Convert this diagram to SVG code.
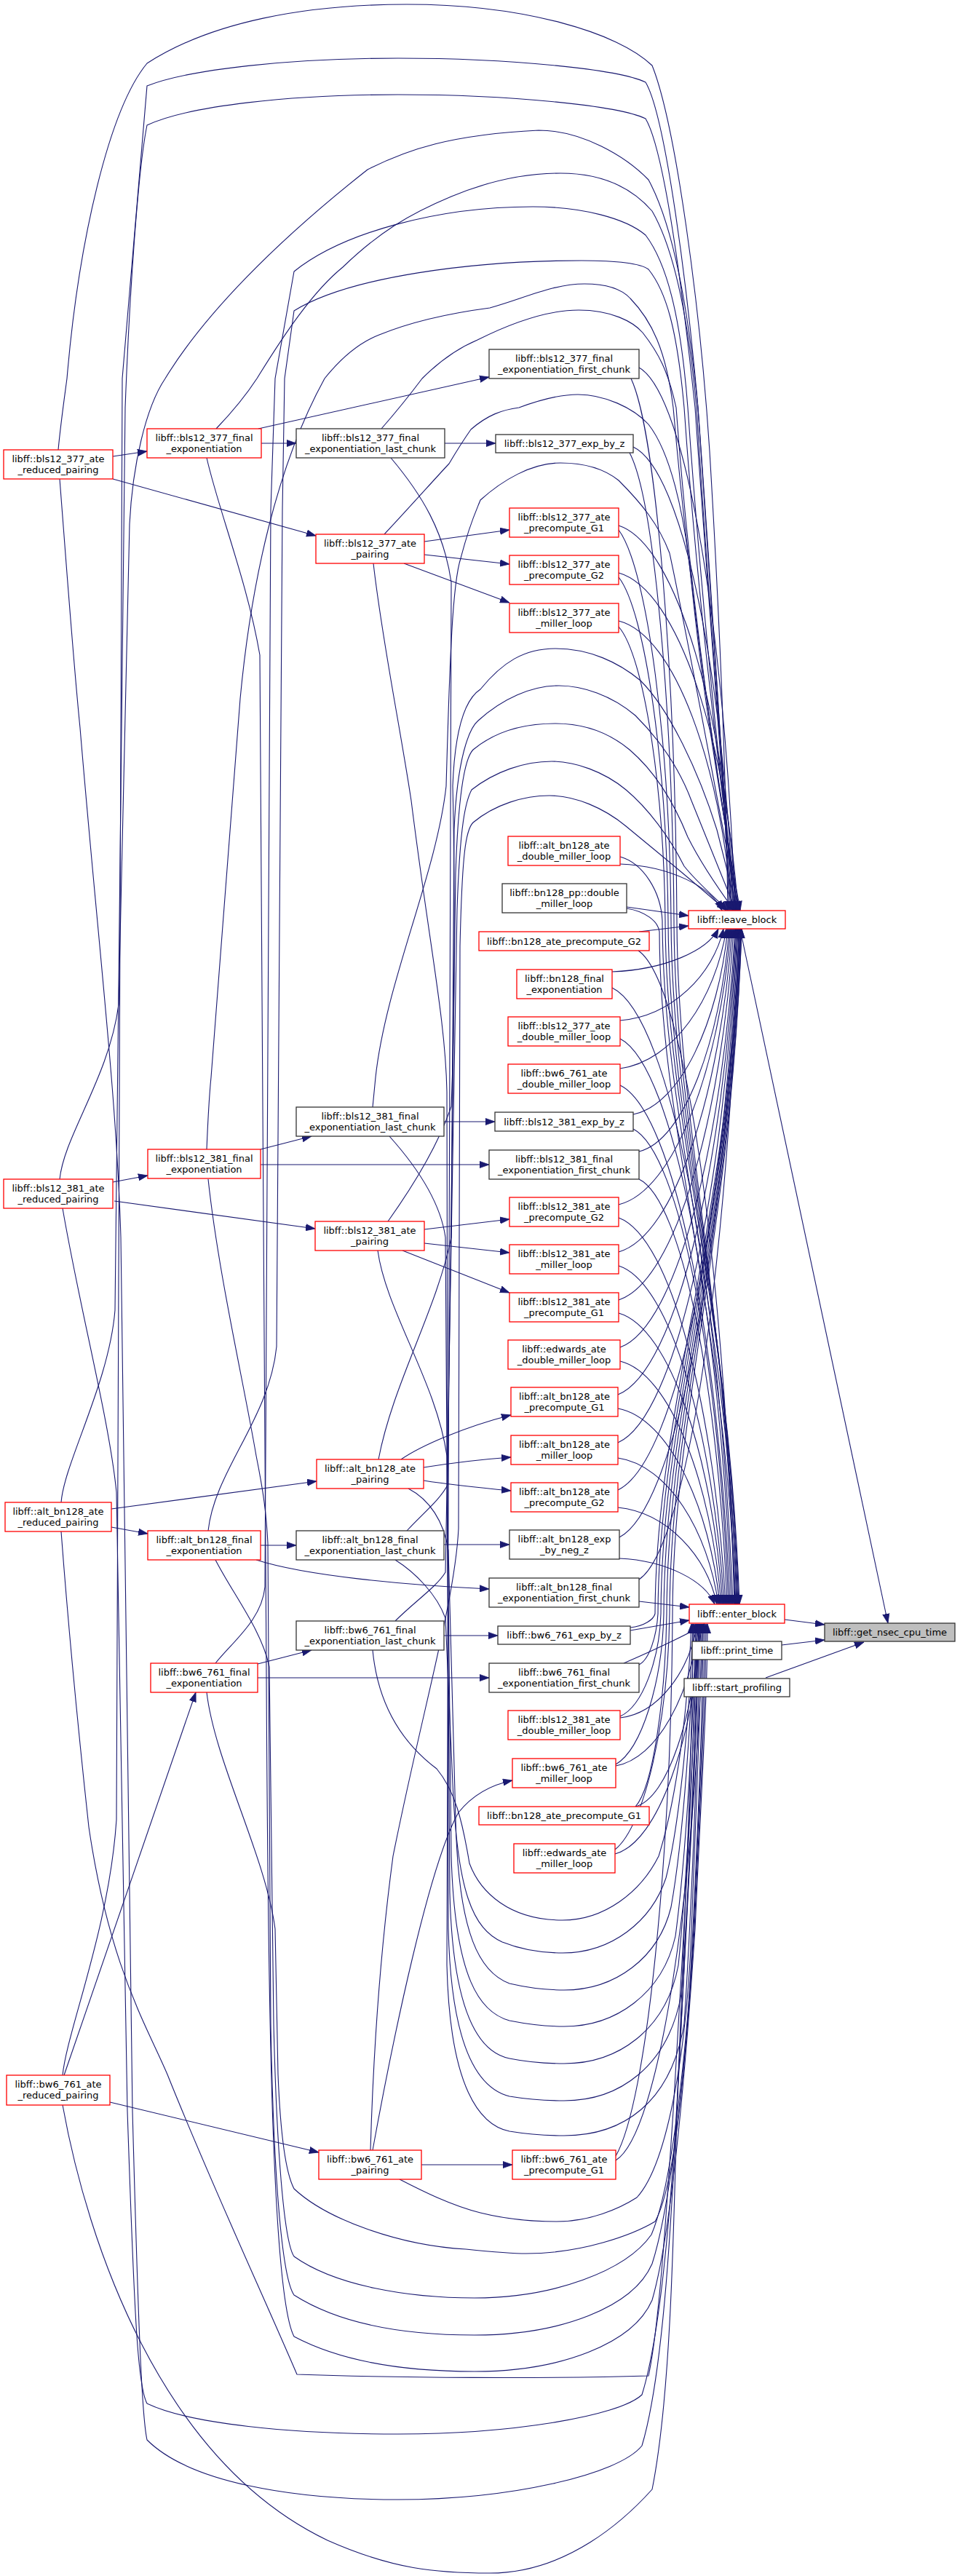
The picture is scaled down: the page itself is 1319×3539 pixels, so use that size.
<svg xmlns="http://www.w3.org/2000/svg" width="1319" height="3539" viewBox="0 0 1319 3539">
<style>
.e{fill:none;stroke:#191970;stroke-width:1.1;marker-end:url(#a)}
.r{fill:#fff;stroke:#ff0000;stroke-width:1.3}
.b{fill:#fff;stroke:#333;stroke-width:1.3}
.g{fill:#bfbfbf;stroke:#333;stroke-width:1.3}
text{font-family:"DejaVu Sans",Verdana,sans-serif;font-size:13px;fill:#000;text-anchor:middle}
</style>
<defs>
<marker id="a" viewBox="0 0 13 10" refX="13" refY="5" markerWidth="13" markerHeight="10" markerUnits="userSpaceOnUse" orient="auto"><path d="M0,0.4 L13,5 L0,9.6 z" fill="#191970" stroke="#191970" stroke-width="0.8"/></marker>
</defs>
<rect x="0" y="0" width="1319" height="3539" fill="#fff"/>
<g id="edges">
<path class="e" d="M155,627 L202,620"/>
<path class="e" d="M155,658 L434,736"/>
<path class="e" d="M359,609 L407,609"/>
<path class="e" d="M355,589 L672,518"/>
<path class="e" d="M611,609 L681,609"/>
<path class="e" d="M583,744 L700,728"/>
<path class="e" d="M583,762 L700,775"/>
<path class="e" d="M555,774 L700,828"/>
<path class="e" d="M155,1624 L203,1615"/>
<path class="e" d="M157,1650 L433,1688"/>
<path class="e" d="M358,1579 L428,1561"/>
<path class="e" d="M358,1600 L672,1600"/>
<path class="e" d="M610,1541 L680,1541"/>
<path class="e" d="M583,1689 L700,1675"/>
<path class="e" d="M583,1708 L700,1721"/>
<path class="e" d="M553,1718 L700,1776"/>
<path class="e" d="M153,2073 L435,2035"/>
<path class="e" d="M153,2098 L203,2107"/>
<path class="e" d="M358,2123 L407,2123"/>
<path class="e" d="M352,2143 C420,2165 560,2178 672,2183"/>
<path class="e" d="M610,2122 L700,2122"/>
<path class="e" d="M551,2005 C580,1985 640,1960 702,1944"/>
<path class="e" d="M582,2016 C620,2010 660,2005 702,2002"/>
<path class="e" d="M582,2034 C620,2040 660,2044 702,2048"/>
<path class="e" d="M151,2888 L438,2957"/>
<path class="e" d="M88,2851 L269,2325"/>
<path class="e" d="M354,2286 L428,2267"/>
<path class="e" d="M354,2305 L672,2305"/>
<path class="e" d="M610,2247 L684,2247"/>
<path class="e" d="M579,2974 L704,2974"/>
<path class="e" d="M512,2954 C540,2800 590,2560 630,2490 C650,2465 675,2452 704,2446"/>
<path class="e" d="M1017,1277 L1220,2230"/>
<path class="e" d="M1078,2225 L1133,2232"/>
<path class="e" d="M1074,2260 L1133,2253"/>
<path class="e" d="M1052,2305 L1187,2256"/>
<path class="e" d="M878,505 C944,542 997,878 1010,1251"/>
<path class="e" d="M870,614 C939,646 994,932 1008,1251"/>
<path class="e" d="M850,722 C931,748 996,986 1012,1251"/>
<path class="e" d="M850,787 C932,810 998,1019 1014,1251"/>
<path class="e" d="M850,853 C928,873 990,1052 1006,1251"/>
<path class="e" d="M852,1187 C922,1190 978,1219 992,1251"/>
<path class="e" d="M861,1246 L946,1258"/>
<path class="e" d="M878,1280 L946,1272"/>
<path class="e" d="M841,1335 C914,1332 972,1306 987,1276"/>
<path class="e" d="M852,1402 C923,1396 980,1339 994,1276"/>
<path class="e" d="M852,1468 C925,1458 983,1372 998,1276"/>
<path class="e" d="M870,1531 C935,1518 987,1404 1000,1276"/>
<path class="e" d="M878,1582 C940,1567 990,1429 1002,1276"/>
<path class="e" d="M850,1655 C927,1636 989,1466 1004,1276"/>
<path class="e" d="M850,1720 C928,1698 990,1498 1006,1276"/>
<path class="e" d="M850,1786 C929,1760 992,1531 1008,1276"/>
<path class="e" d="M852,1851 C931,1822 994,1564 1010,1276"/>
<path class="e" d="M849,1916 C930,1884 995,1596 1011,1276"/>
<path class="e" d="M849,1982 C930,1947 996,1629 1012,1276"/>
<path class="e" d="M849,2047 C931,2008 997,1662 1013,1276"/>
<path class="e" d="M851,2112 C932,2070 998,1694 1014,1276"/>
<path class="e" d="M878,2170 C946,2125 1001,1723 1015,1276"/>
<path class="e" d="M866,2236 C885,2234 898,2225 900,2217 C901,1935 999,1699 1016,1276"/>
<path class="e" d="M878,2287 C892,2280 902,2249 904,2217 C905,1935 1000,1699 1017,1276"/>
<path class="e" d="M852,2358 C883,2344 906,2280 908,2217 C909,1935 1001,1699 1017,1276"/>
<path class="e" d="M846,2424 C882,2403 910,2310 912,2217 C913,1935 1002,1699 1018,1276"/>
<path class="e" d="M873,2482 C897,2456 914,2336 916,2217 C917,1935 1003,1699 1018,1276"/>
<path class="e" d="M845,2541 C886,2509 918,2363 920,2217 C921,1935 1004,1699 1019,1276"/>
<path class="e" d="M846,2962 C889,2888 922,2552 924,2217 C925,1935 1005,1699 1019,1276"/>
<path class="e" d="M867,520 C902,595 928,930 930,1265 C931,1547 998,1781 1010,2204"/>
<path class="e" d="M865,622 C899,686 924,976 926,1265 C927,1547 999,1781 1012,2204"/>
<path class="e" d="M850,728 C890,782 920,1023 922,1265 C923,1547 1000,1781 1014,2204"/>
<path class="e" d="M850,793 C887,840 916,1053 918,1265 C919,1547 1000,1781 1015,2204"/>
<path class="e" d="M850,861 C885,901 912,1083 914,1265 C915,1547 1001,1781 1016,2204"/>
<path class="e" d="M852,1177 C884,1186 908,1225 910,1265 C911,1547 998,1781 1013,2204"/>
<path class="e" d="M861,1248 C886,1252 904,1265 906,1280 C907,1558 994,1785 1011,2204"/>
<path class="e" d="M877,1306 C943,1351 996,1755 1009,2204"/>
<path class="e" d="M841,1357 C924,1397 990,1780 1007,2204"/>
<path class="e" d="M852,1427 C928,1466 990,1816 1005,2204"/>
<path class="e" d="M852,1491 C927,1527 988,1848 1003,2204"/>
<path class="e" d="M870,1551 C935,1584 988,1878 1001,2204"/>
<path class="e" d="M878,1620 C938,1649 987,1912 999,2204"/>
<path class="e" d="M850,1673 C923,1700 982,1939 997,2204"/>
<path class="e" d="M850,1739 C922,1762 980,1972 995,2204"/>
<path class="e" d="M850,1804 C921,1824 979,2004 993,2204"/>
<path class="e" d="M852,1870 C921,1887 977,2037 991,2204"/>
<path class="e" d="M849,1935 C919,1948 975,2070 989,2204"/>
<path class="e" d="M849,2003 C918,2013 973,2104 987,2204"/>
<path class="e" d="M849,2071 C917,2078 971,2138 985,2204"/>
<path class="e" d="M851,2141 C916,2144 969,2172 982,2204"/>
<path class="e" d="M878,2200 L947,2208"/>
<path class="e" d="M866,2240 L947,2226"/>
<path class="e" d="M857,2285 C910,2262 955,2240 968,2231"/>
<path class="e" d="M852,2360 C905,2354 947,2296 958,2231"/>
<path class="e" d="M846,2426 C903,2416 949,2329 960,2231"/>
<path class="e" d="M873,2482 C918,2470 953,2357 962,2231"/>
<path class="e" d="M845,2547 C905,2531 952,2389 964,2231"/>
<path class="e" d="M846,2968 C906,2931 954,2600 966,2231"/>
<path class="e" d="M80,618 C83,585 88,550 92,520 C108,330 150,150 202,87 C290,30 420,6 559,6 C720,6 850,45 896,90 C928,170 962,420 975,620 C990,870 998,1100 1000,1251"/>
<path class="e" d="M86,2851 C92,2790 150,2650 160,2500 L168,520 L202,118 C260,95 400,80 547,80 C700,80 850,95 887,113 C915,160 945,400 959,560 C980,850 996,1100 1002,1251"/>
<path class="e" d="M84,2064 C88,2010 150,1900 158,1800 L172,560 C178,400 190,230 202,172 C260,145 400,130 547,130 C700,130 850,145 887,163 C915,210 940,420 955,560 C975,850 996,1100 1004,1251"/>
<path class="e" d="M82,1620 C88,1560 150,1480 163,1380 L178,720 C182,640 200,560 227,520 C280,433 378,333 505,233 C560,205 620,185 740,179 C800,179 860,215 891,247 C925,310 945,420 959,560 C978,850 996,1100 1006,1251"/>
<path class="e" d="M297,589 C320,565 340,540 353,520 C390,460 430,400 471,367 C520,320 560,295 620,270 C680,245 730,238 770,238 C830,238 870,260 896,290 C925,340 945,430 957,560 C975,850 996,1100 1008,1251"/>
<path class="e" d="M296,2285 C320,2255 360,2225 364,2180 L372,700 L378,520 L404,373 C470,320 600,284 732,284 C800,284 860,300 887,323 C915,360 935,430 945,560 C965,850 994,1100 1010,1251"/>
<path class="e" d="M286,2103 C295,2020 370,1950 380,1850 L388,700 L391,520 L404,427 C480,380 650,358 799,358 C850,358 880,362 891,370 C915,400 930,450 940,560 C960,850 994,1100 1012,1251"/>
<path class="e" d="M284,1579 C286,1530 288,1500 290,1480 L330,960 C345,800 380,640 446,520 C470,490 495,470 521,460 C570,440 620,430 673,423 C720,410 760,390 803,390 C835,390 855,398 866,410 C895,440 915,480 925,560 C950,850 992,1100 1014,1251"/>
<path class="e" d="M524,589 C545,565 565,540 580,520 C605,495 630,478 656,467 C700,445 750,426 795,426 C840,426 870,442 883,457 C905,485 918,510 929,560 C950,850 990,1100 1016,1251"/>
<path class="e" d="M528,734 C560,700 600,655 617,637 C630,615 640,600 647,590 C670,570 690,563 713,560 C740,550 770,542 794,542 C830,542 870,560 891,583 C920,620 940,700 950,800 C965,950 990,1100 1017,1251"/>
<path class="e" d="M512,1521 C514,1500 515,1490 516,1480 C530,1350 600,1200 613,1080 C618,900 622,800 633,767 C645,720 655,700 660,687 C690,660 730,636 770,636 C810,636 835,648 850,660 C880,690 905,720 920,760 C950,900 985,1100 1015,1251"/>
<path class="e" d="M533,1678 C560,1640 600,1580 620,1520 C625,1400 625,1200 622,1080 C625,1000 640,960 660,947 C690,910 720,891 763,891 C810,891 850,910 880,935 C920,975 960,1060 985,1140 C995,1180 1005,1220 1013,1251"/>
<path class="e" d="M520,2005 C540,1900 600,1800 620,1700 L624,1140 C628,1040 645,1000 657,990 C690,960 730,942 768,942 C800,942 840,955 873,983 C910,1020 935,1060 950,1100 C970,1150 990,1200 1011,1251"/>
<path class="e" d="M559,2103 C580,2080 605,2060 615,2040 L626,1200 C630,1080 640,1040 650,1030 C680,1005 720,994 763,994 C800,994 835,1005 865,1030 C900,1060 925,1100 945,1150 C965,1190 990,1225 1009,1251"/>
<path class="e" d="M543,2227 C570,2200 600,2180 612,2160 L628,1250 C632,1130 640,1100 648,1085 C680,1060 720,1046 758,1046 C790,1046 830,1060 860,1085 C890,1110 920,1150 940,1190 C960,1215 985,1235 1000,1251"/>
<path class="e" d="M509,2954 C512,2850 520,2700 540,2550 C580,2350 625,2200 630,2100 L632,1300 C635,1170 640,1140 650,1130 C680,1105 720,1093 755,1093 C790,1093 830,1110 860,1135 C890,1160 940,1200 998,1251"/>
<path class="e" d="M512,2267 C520,2350 560,2400 600,2430 C625,2460 635,2500 645,2560 C660,2600 700,2638 773,2638 C830,2638 880,2600 905,2550 C930,2470 945,2350 950,2231"/>
<path class="e" d="M543,2143 C570,2160 600,2190 612,2223 L622,2450 C628,2600 650,2650 690,2668 C715,2678 740,2683 773,2683 C840,2683 895,2640 915,2580 C935,2500 948,2350 952,2231"/>
<path class="e" d="M561,2045 C590,2060 610,2090 616,2130 L626,2500 C630,2660 660,2710 700,2725 C730,2732 750,2734 775,2734 C845,2734 905,2690 922,2620 C940,2520 950,2350 954,2231"/>
<path class="e" d="M519,1718 C530,1800 600,1900 614,2000 L620,2550 C625,2720 660,2765 700,2776 C730,2782 750,2784 775,2784 C845,2784 910,2740 928,2660 C944,2540 953,2350 956,2231"/>
<path class="e" d="M535,1561 C570,1600 605,1650 612,1700 L618,2600 C622,2770 660,2820 700,2828 C730,2834 750,2835 775,2835 C848,2835 915,2790 932,2700 C946,2560 955,2350 958,2231"/>
<path class="e" d="M513,774 C525,880 550,1000 565,1100 C590,1300 612,1400 614,1500 L616,2650 C620,2820 660,2870 700,2880 C730,2885 750,2886 775,2886 C850,2886 918,2840 936,2740 C948,2580 957,2350 960,2231"/>
<path class="e" d="M537,629 C580,680 610,730 620,800 L614,2700 C618,2870 660,2920 700,2928 C730,2933 750,2934 775,2934 C855,2934 922,2890 940,2780 C952,2600 960,2350 962,2231"/>
<path class="e" d="M549,2994 C580,3010 620,3030 660,3040 C700,3050 740,3052 765,3052 C810,3052 850,3035 875,3019 C920,2970 945,2800 950,2650 C958,2450 963,2330 964,2231"/>
<path class="e" d="M284,2325 C295,2420 365,2550 378,2650 L382,2850 C386,2950 395,2990 404,3007 C450,3050 550,3085 640,3090 C670,3093 700,3096 723,3096 C800,3096 870,3070 900,3052 C930,3000 945,2800 952,2650 C962,2450 966,2330 966,2231"/>
<path class="e" d="M296,2143 C320,2190 360,2240 370,2290 L376,2780 C380,2950 390,3080 404,3100 C460,3140 560,3157 652,3157 C760,3157 860,3120 895,3070 C925,3000 945,2800 953,2650 C962,2450 968,2330 968,2231"/>
<path class="e" d="M286,1620 C300,1750 335,1900 352,2000 C362,2050 366,2080 368,2120 L372,2780 C376,3000 388,3130 404,3153 C470,3195 560,3208 652,3208 C770,3208 870,3170 896,3110 C925,3020 945,2800 954,2650 C963,2450 970,2330 970,2231"/>
<path class="e" d="M284,629 C300,700 340,800 357,900 L366,2300 C368,2700 372,3150 404,3210 C470,3245 560,3258 652,3258 C770,3258 870,3220 896,3160 C925,3060 945,2800 955,2650 C964,2450 972,2330 972,2231"/>
<path class="e" d="M84,2104 C95,2250 110,2400 122,2510 C150,2700 200,2780 230,2850 C290,3000 360,3150 408,3262 C550,3267 750,3268 891,3264 C905,3200 915,3050 925,2900 C940,2650 955,2400 956,2231"/>
<path class="e" d="M86,1660 C110,1800 150,1950 160,2050 L175,2900 C185,3200 190,3280 202,3302 C260,3330 400,3344 547,3344 C700,3344 850,3320 882,3290 C910,3200 925,3000 935,2800 C948,2550 958,2350 958,2231"/>
<path class="e" d="M82,658 C90,760 100,900 110,1000 C135,1300 160,1500 166,1700 L182,2900 C190,3200 195,3320 202,3352 C260,3410 400,3434 547,3434 C700,3434 850,3400 882,3360 C915,3250 925,3000 935,2800 C948,2550 960,2350 960,2231"/>
<path class="e" d="M86,2892 C120,3080 220,3380 450,3490 C540,3530 600,3535 673,3535 C780,3535 860,3460 896,3420 C920,3300 925,3100 930,2900 C940,2650 952,2400 952,2231"/>
</g>
<g id="n_r377"><rect class="r" x="5" y="618" width="150" height="40"/><text x="80" y="634.7">libff::bls12_377_ate</text><text x="80" y="649.7">_reduced_pairing</text></g>
<g id="n_r381"><rect class="r" x="5" y="1620" width="150" height="40"/><text x="80" y="1636.7">libff::bls12_381_ate</text><text x="80" y="1651.7">_reduced_pairing</text></g>
<g id="n_ralt"><rect class="r" x="7" y="2064" width="146" height="40"/><text x="80" y="2080.7">libff::alt_bn128_ate</text><text x="80" y="2095.7">_reduced_pairing</text></g>
<g id="n_rbw6"><rect class="r" x="9" y="2851" width="142" height="41"/><text x="80" y="2867.7">libff::bw6_761_ate</text><text x="80" y="2882.7">_reduced_pairing</text></g>
<g id="n_f377"><rect class="r" x="202" y="589" width="157" height="40"/><text x="280.5" y="605.7">libff::bls12_377_final</text><text x="280.5" y="620.7">_exponentiation</text></g>
<g id="n_f381"><rect class="r" x="203" y="1579" width="155" height="40"/><text x="280.5" y="1595.7">libff::bls12_381_final</text><text x="280.5" y="1610.7">_exponentiation</text></g>
<g id="n_falt"><rect class="r" x="203" y="2103" width="155" height="40"/><text x="280.5" y="2119.7">libff::alt_bn128_final</text><text x="280.5" y="2134.7">_exponentiation</text></g>
<g id="n_fbw6"><rect class="r" x="207" y="2285" width="147" height="40"/><text x="280.5" y="2301.7">libff::bw6_761_final</text><text x="280.5" y="2316.7">_exponentiation</text></g>
<g id="n_l377"><rect class="b" x="407" y="589" width="204" height="40"/><text x="509" y="605.7">libff::bls12_377_final</text><text x="509" y="620.7">_exponentiation_last_chunk</text></g>
<g id="n_p377"><rect class="r" x="434" y="734" width="149" height="40"/><text x="508.5" y="750.7">libff::bls12_377_ate</text><text x="508.5" y="765.7">_pairing</text></g>
<g id="n_l381"><rect class="b" x="407" y="1521" width="203" height="40"/><text x="508.5" y="1537.7">libff::bls12_381_final</text><text x="508.5" y="1552.7">_exponentiation_last_chunk</text></g>
<g id="n_p381"><rect class="r" x="433" y="1678" width="150" height="40"/><text x="508" y="1694.7">libff::bls12_381_ate</text><text x="508" y="1709.7">_pairing</text></g>
<g id="n_palt"><rect class="r" x="435" y="2005" width="147" height="40"/><text x="508.5" y="2021.7">libff::alt_bn128_ate</text><text x="508.5" y="2036.7">_pairing</text></g>
<g id="n_lalt"><rect class="b" x="407" y="2103" width="203" height="40"/><text x="508.5" y="2119.7">libff::alt_bn128_final</text><text x="508.5" y="2134.7">_exponentiation_last_chunk</text></g>
<g id="n_lbw6"><rect class="b" x="407" y="2227" width="203" height="40"/><text x="508.5" y="2243.7">libff::bw6_761_final</text><text x="508.5" y="2258.7">_exponentiation_last_chunk</text></g>
<g id="n_pbw6"><rect class="r" x="438" y="2954" width="141" height="40"/><text x="508.5" y="2970.7">libff::bw6_761_ate</text><text x="508.5" y="2985.7">_pairing</text></g>
<g id="n_fc377"><rect class="b" x="672" y="480" width="206" height="40"/><text x="775" y="496.7">libff::bls12_377_final</text><text x="775" y="511.7">_exponentiation_first_chunk</text></g>
<g id="n_ez377"><rect class="b" x="681" y="597" width="189" height="25"/><text x="775.5" y="614">libff::bls12_377_exp_by_z</text></g>
<g id="n_g1_377"><rect class="r" x="700" y="698" width="150" height="40"/><text x="775" y="714.7">libff::bls12_377_ate</text><text x="775" y="729.7">_precompute_G1</text></g>
<g id="n_g2_377"><rect class="r" x="700" y="763" width="150" height="40"/><text x="775" y="779.7">libff::bls12_377_ate</text><text x="775" y="794.7">_precompute_G2</text></g>
<g id="n_ml377"><rect class="r" x="700" y="829" width="150" height="40"/><text x="775" y="845.7">libff::bls12_377_ate</text><text x="775" y="860.7">_miller_loop</text></g>
<g id="n_adml"><rect class="r" x="698" y="1149" width="154" height="40"/><text x="775" y="1165.7">libff::alt_bn128_ate</text><text x="775" y="1180.7">_double_miller_loop</text></g>
<g id="n_bnpp"><rect class="b" x="690" y="1214" width="171" height="40"/><text x="775.5" y="1230.7">libff::bn128_pp::double</text><text x="775.5" y="1245.7">_miller_loop</text></g>
<g id="n_bng2"><rect class="r" x="658" y="1280" width="234" height="26"/><text x="775" y="1297.5">libff::bn128_ate_precompute_G2</text></g>
<g id="n_bnfe"><rect class="r" x="710" y="1332" width="131" height="40"/><text x="775.5" y="1348.7">libff::bn128_final</text><text x="775.5" y="1363.7">_exponentiation</text></g>
<g id="n_dml377"><rect class="r" x="698" y="1397" width="154" height="40"/><text x="775" y="1413.7">libff::bls12_377_ate</text><text x="775" y="1428.7">_double_miller_loop</text></g>
<g id="n_dmlbw6"><rect class="r" x="698" y="1462" width="154" height="40"/><text x="775" y="1478.7">libff::bw6_761_ate</text><text x="775" y="1493.7">_double_miller_loop</text></g>
<g id="n_ez381"><rect class="b" x="680" y="1528" width="190" height="26"/><text x="775" y="1545.5">libff::bls12_381_exp_by_z</text></g>
<g id="n_fc381"><rect class="b" x="672" y="1580" width="206" height="40"/><text x="775" y="1596.7">libff::bls12_381_final</text><text x="775" y="1611.7">_exponentiation_first_chunk</text></g>
<g id="n_g2_381"><rect class="r" x="700" y="1645" width="150" height="40"/><text x="775" y="1661.7">libff::bls12_381_ate</text><text x="775" y="1676.7">_precompute_G2</text></g>
<g id="n_ml381"><rect class="r" x="700" y="1710" width="150" height="40"/><text x="775" y="1726.7">libff::bls12_381_ate</text><text x="775" y="1741.7">_miller_loop</text></g>
<g id="n_g1_381"><rect class="r" x="700" y="1776" width="150" height="40"/><text x="775" y="1792.7">libff::bls12_381_ate</text><text x="775" y="1807.7">_precompute_G1</text></g>
<g id="n_edml"><rect class="r" x="698" y="1841" width="154" height="40"/><text x="775" y="1857.7">libff::edwards_ate</text><text x="775" y="1872.7">_double_miller_loop</text></g>
<g id="n_ag1"><rect class="r" x="702" y="1906" width="147" height="40"/><text x="775.5" y="1922.7">libff::alt_bn128_ate</text><text x="775.5" y="1937.7">_precompute_G1</text></g>
<g id="n_aml"><rect class="r" x="702" y="1972" width="147" height="40"/><text x="775.5" y="1988.7">libff::alt_bn128_ate</text><text x="775.5" y="2003.7">_miller_loop</text></g>
<g id="n_ag2"><rect class="r" x="702" y="2037" width="147" height="40"/><text x="775.5" y="2053.7">libff::alt_bn128_ate</text><text x="775.5" y="2068.7">_precompute_G2</text></g>
<g id="n_aez"><rect class="b" x="700" y="2102" width="151" height="40"/><text x="775.5" y="2118.7">libff::alt_bn128_exp</text><text x="775.5" y="2133.7">_by_neg_z</text></g>
<g id="n_afc"><rect class="b" x="672" y="2168" width="206" height="40"/><text x="775" y="2184.7">libff::alt_bn128_final</text><text x="775" y="2199.7">_exponentiation_first_chunk</text></g>
<g id="n_ezbw6"><rect class="b" x="684" y="2234" width="182" height="25"/><text x="775" y="2251">libff::bw6_761_exp_by_z</text></g>
<g id="n_fcbw6"><rect class="b" x="672" y="2285" width="206" height="40"/><text x="775" y="2301.7">libff::bw6_761_final</text><text x="775" y="2316.7">_exponentiation_first_chunk</text></g>
<g id="n_dml381"><rect class="r" x="698" y="2350" width="154" height="40"/><text x="775" y="2366.7">libff::bls12_381_ate</text><text x="775" y="2381.7">_double_miller_loop</text></g>
<g id="n_mlbw6"><rect class="r" x="704" y="2416" width="142" height="40"/><text x="775" y="2432.7">libff::bw6_761_ate</text><text x="775" y="2447.7">_miller_loop</text></g>
<g id="n_bng1"><rect class="r" x="658" y="2482" width="234" height="25"/><text x="775" y="2499">libff::bn128_ate_precompute_G1</text></g>
<g id="n_edml2"><rect class="r" x="706" y="2533" width="139" height="40"/><text x="775.5" y="2549.7">libff::edwards_ate</text><text x="775.5" y="2564.7">_miller_loop</text></g>
<g id="n_g1bw6"><rect class="r" x="704" y="2954" width="142" height="40"/><text x="775" y="2970.7">libff::bw6_761_ate</text><text x="775" y="2985.7">_precompute_G1</text></g>
<g id="n_leave"><rect class="r" x="946" y="1251" width="133" height="25"/><text x="1012.5" y="1268">libff::leave_block</text></g>
<g id="n_enter"><rect class="r" x="947" y="2204" width="131" height="26"/><text x="1012.5" y="2221.5">libff::enter_block</text></g>
<g id="n_print"><rect class="b" x="951" y="2255" width="123" height="25"/><text x="1012.5" y="2272">libff::print_time</text></g>
<g id="n_start"><rect class="b" x="940" y="2306" width="145" height="25"/><text x="1012.5" y="2323">libff::start_profiling</text></g>
<g id="n_nsec"><rect class="g" x="1133" y="2230" width="179" height="25"/><text x="1222.5" y="2247">libff::get_nsec_cpu_time</text></g>
</svg>
